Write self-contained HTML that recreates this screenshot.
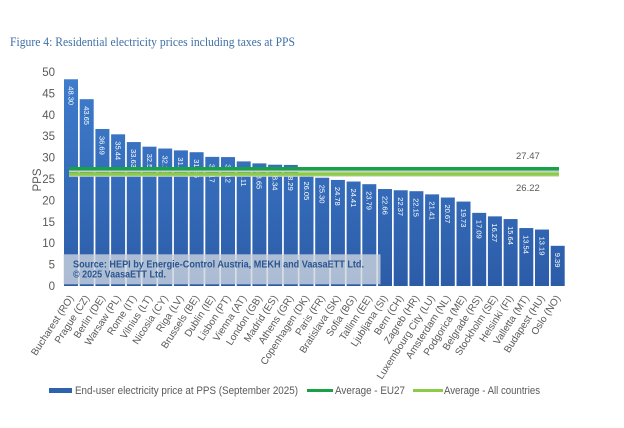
<!DOCTYPE html>
<html><head><meta charset="utf-8"><style>
html,body{margin:0;padding:0;background:#fff;}
svg{display:block;font-family:"Liberation Sans",Arial,sans-serif;}
</style></head><body>
<svg width="624" height="428" viewBox="0 0 624 428" xmlns="http://www.w3.org/2000/svg">
<defs>
<linearGradient id="bg" gradientUnits="userSpaceOnUse" x1="0" y1="79" x2="0" y2="286">
<stop offset="0" stop-color="#3e7ccc"/><stop offset="1" stop-color="#2c5ca8"/>
</linearGradient>
</defs>
<text x="10" y="46" font-family="'Liberation Serif',serif" font-size="12.5" fill="#3f70a6" textLength="285" lengthAdjust="spacingAndGlyphs">Figure 4: Residential electricity prices including taxes at PPS</text>

<g font-size="11.5" fill="#595959" text-anchor="end">
<text x="55" y="290">0</text>
<text x="55" y="268.6">5</text>
<text x="55" y="247.2">10</text>
<text x="55" y="225.8">15</text>
<text x="55" y="204.4">20</text>
<text x="55" y="183">25</text>
<text x="55" y="161.6">30</text>
<text x="55" y="140.2">35</text>
<text x="55" y="118.8">40</text>
<text x="55" y="97.4">45</text>
<text x="55" y="76">50</text>
</g>
<text transform="translate(41,180) rotate(-90)" font-size="11.5" fill="#595959" text-anchor="middle">PPS</text>

<g fill="url(#bg)">
<rect x="64" y="79.28" width="14" height="206.72"/>
<rect x="79.7" y="99.18" width="14" height="186.82"/>
<rect x="95.4" y="128.97" width="14" height="157.03"/>
<rect x="111.1" y="134.32" width="14" height="151.68"/>
<rect x="126.8" y="142.06" width="14" height="143.94"/>
<rect x="142.5" y="146.69" width="14" height="139.31"/>
<rect x="158.2" y="148.53" width="14" height="137.47"/>
<rect x="173.9" y="150.37" width="14" height="135.63"/>
<rect x="189.6" y="152.21" width="14" height="133.79"/>
<rect x="205.3" y="156.87" width="14" height="129.13"/>
<rect x="221.0" y="157.09" width="14" height="128.91"/>
<rect x="236.7" y="161.41" width="14" height="124.59"/>
<rect x="252.4" y="163.38" width="14" height="122.62"/>
<rect x="268.1" y="164.70" width="14" height="121.30"/>
<rect x="283.8" y="164.92" width="14" height="121.08"/>
<rect x="299.5" y="174.51" width="14" height="111.49"/>
<rect x="315.2" y="177.72" width="14" height="108.28"/>
<rect x="330.9" y="179.94" width="14" height="106.06"/>
<rect x="346.6" y="181.53" width="14" height="104.47"/>
<rect x="362.3" y="184.18" width="14" height="101.82"/>
<rect x="378.0" y="189.02" width="14" height="96.98"/>
<rect x="393.7" y="190.26" width="14" height="95.74"/>
<rect x="409.4" y="191.20" width="14" height="94.80"/>
<rect x="425.1" y="194.37" width="14" height="91.63"/>
<rect x="440.8" y="197.53" width="14" height="88.47"/>
<rect x="456.5" y="201.56" width="14" height="84.44"/>
<rect x="472.2" y="212.85" width="14" height="73.15"/>
<rect x="487.9" y="216.36" width="14" height="69.64"/>
<rect x="503.6" y="219.06" width="14" height="66.94"/>
<rect x="519.3" y="228.05" width="14" height="57.95"/>
<rect x="535.0" y="229.55" width="14" height="56.45"/>
<rect x="550.7" y="245.81" width="14" height="40.19"/>
</g>

<g font-size="7.5" fill="#ffffff">
<text transform="translate(68.3,86.3) rotate(90)">48.30</text>
<text transform="translate(84.0,106.2) rotate(90)">43.65</text>
<text transform="translate(99.7,136.0) rotate(90)">36.69</text>
<text transform="translate(115.4,141.3) rotate(90)">35.44</text>
<text transform="translate(131.1,149.1) rotate(90)">33.63</text>
<text transform="translate(146.8,153.7) rotate(90)">32.55</text>
<text transform="translate(162.5,155.5) rotate(90)">32.12</text>
<text transform="translate(178.2,157.4) rotate(90)">31.69</text>
<text transform="translate(193.9,159.2) rotate(90)">31.26</text>
<text transform="translate(209.6,163.9) rotate(90)">30.17</text>
<text transform="translate(225.3,164.1) rotate(90)">30.12</text>
<text transform="translate(241.0,168.4) rotate(90)">29.11</text>
<text transform="translate(256.7,170.4) rotate(90)">28.65</text>
<text transform="translate(272.4,171.7) rotate(90)">28.34</text>
<text transform="translate(288.1,171.9) rotate(90)">28.29</text>
<text transform="translate(303.8,181.5) rotate(90)">26.05</text>
<text transform="translate(319.5,184.7) rotate(90)">25.30</text>
<text transform="translate(335.2,186.9) rotate(90)">24.78</text>
<text transform="translate(350.9,188.5) rotate(90)">24.41</text>
<text transform="translate(366.6,191.2) rotate(90)">23.79</text>
<text transform="translate(382.3,196.0) rotate(90)">22.66</text>
<text transform="translate(398.0,197.3) rotate(90)">22.37</text>
<text transform="translate(413.7,198.2) rotate(90)">22.15</text>
<text transform="translate(429.4,201.4) rotate(90)">21.41</text>
<text transform="translate(445.1,204.5) rotate(90)">20.67</text>
<text transform="translate(460.8,208.6) rotate(90)">19.73</text>
<text transform="translate(476.5,219.9) rotate(90)">17.09</text>
<text transform="translate(492.2,223.4) rotate(90)">16.27</text>
<text transform="translate(507.9,226.1) rotate(90)">15.64</text>
<text transform="translate(523.6,235.1) rotate(90)">13.54</text>
<text transform="translate(539.3,236.6) rotate(90)">13.19</text>
<text transform="translate(555.0,252.8) rotate(90)">9.39</text>
</g>

<line x1="69" y1="176" x2="559" y2="176" stroke="#d0d8c4" stroke-width="1.5"/>
<line x1="69" y1="171.3" x2="559" y2="171.3" stroke="#c9cdd0" stroke-width="1.5"/>
<line x1="69" y1="168.7" x2="559" y2="168.7" stroke="#18a246" stroke-width="3.5"/>
<line x1="69" y1="174" x2="559" y2="174" stroke="#8ccb48" stroke-width="3.5"/>

<g font-size="9.5" fill="#595959">
<text x="516" y="159">27.47</text>
<text x="516" y="191">26.22</text>
</g>

<rect x="63.5" y="254.3" width="317" height="30" fill="#cdd4de" fill-opacity="0.8"/>
<g font-weight="bold" font-size="10" fill="#2a5590">
<text x="73" y="267.5" textLength="291" lengthAdjust="spacingAndGlyphs">Source: HEPI by Energie-Control Austria, MEKH and VaasaETT Ltd.</text>
<text x="73" y="277.7" textLength="93" lengthAdjust="spacingAndGlyphs">© 2025 VaasaETT Ltd.</text>
</g>

<g font-size="10" fill="#595959" text-anchor="end">
<text transform="translate(74.0,298) rotate(-57)">Bucharest (RO)</text>
<text transform="translate(89.7,298) rotate(-57)">Prague (CZ)</text>
<text transform="translate(105.4,298) rotate(-57)">Berlin (DE)</text>
<text transform="translate(121.1,298) rotate(-57)">Warsaw (PL)</text>
<text transform="translate(136.8,298) rotate(-57)">Rome (IT)</text>
<text transform="translate(152.5,298) rotate(-57)">Vilnius (LT)</text>
<text transform="translate(168.2,298) rotate(-57)">Nicosia (CY)</text>
<text transform="translate(183.9,298) rotate(-57)">Riga (LV)</text>
<text transform="translate(199.6,298) rotate(-57)">Brussels (BE)</text>
<text transform="translate(215.3,298) rotate(-57)">Dublin (IE)</text>
<text transform="translate(231.0,298) rotate(-57)">Lisbon (PT)</text>
<text transform="translate(246.7,298) rotate(-57)">Vienna (AT)</text>
<text transform="translate(262.4,298) rotate(-57)">London (GB)</text>
<text transform="translate(278.1,298) rotate(-57)">Madrid (ES)</text>
<text transform="translate(293.8,298) rotate(-57)">Athens (GR)</text>
<text transform="translate(309.5,298) rotate(-57)">Copenhagen (DK)</text>
<text transform="translate(325.2,298) rotate(-57)">Paris (FR)</text>
<text transform="translate(340.9,298) rotate(-57)">Bratislava (SK)</text>
<text transform="translate(356.6,298) rotate(-57)">Sofia (BG)</text>
<text transform="translate(372.3,298) rotate(-57)">Tallinn (EE)</text>
<text transform="translate(388.0,298) rotate(-57)">Ljubljana (SI)</text>
<text transform="translate(403.7,298) rotate(-57)">Bern (CH)</text>
<text transform="translate(419.4,298) rotate(-57)">Zagreb (HR)</text>
<text transform="translate(435.1,298) rotate(-57)">Luxembourg City (LU)</text>
<text transform="translate(450.8,298) rotate(-57)">Amsterdam (NL)</text>
<text transform="translate(466.5,298) rotate(-57)">Podgorica (ME)</text>
<text transform="translate(482.2,298) rotate(-57)">Belgrade (RS)</text>
<text transform="translate(497.9,298) rotate(-57)">Stockholm (SE)</text>
<text transform="translate(513.6,298) rotate(-57)">Helsinki (FI)</text>
<text transform="translate(529.3,298) rotate(-57)">Valletta (MT)</text>
<text transform="translate(545.0,298) rotate(-57)">Budapest (HU)</text>
<text transform="translate(560.7,298) rotate(-57)">Oslo (NO)</text>
</g>

<rect x="49" y="388" width="23" height="5" fill="#2f62ad"/>
<text x="75" y="394" font-size="11" fill="#595959" textLength="223" lengthAdjust="spacingAndGlyphs">End-user electricity price at PPS (September 2025)</text>
<rect x="307" y="389" width="26" height="3" fill="#18a246"/>
<text x="335" y="394" font-size="11" fill="#595959" textLength="70" lengthAdjust="spacingAndGlyphs">Average - EU27</text>
<rect x="413" y="389" width="30" height="3" fill="#8ccb48"/>
<text x="444" y="394" font-size="11" fill="#595959" textLength="96" lengthAdjust="spacingAndGlyphs">Average - All countries</text>
</svg>
</body></html>
